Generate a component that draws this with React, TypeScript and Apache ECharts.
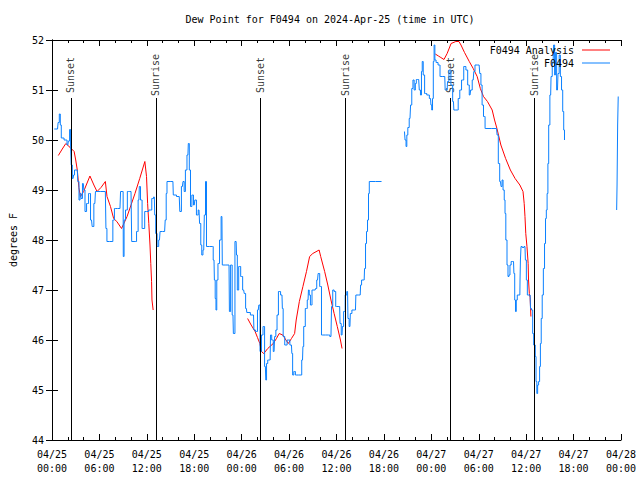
import React, { useEffect, useRef } from "react";
import * as echarts from "echarts";

const FONT = '"DejaVu Sans Mono", monospace';

const titleText = "Dew Point for F0494 on 2024-Apr-25 (time in UTC)";
const yAxisName = "degrees F";
const seriesNames = ["F0494 Analysis", "F0494"];

// hours since 2024-04-25 00:00 UTC
const obsHours = [
  0.29, 0.7, 0.85, 1.0, 1.1, 1.25, 1.8, 2.0, 2.15, 2.3, 2.4, 2.46, 2.67, 2.8, 2.9, 3.2, 3.33, 3.5, 3.6, 3.75,
  3.96, 4.1, 4.25, 4.5, 4.75, 5.0, 5.17, 5.42, 5.58, 6.75, 6.9, 7.0, 7.6, 7.8, 8.0, 8.6, 8.75, 9.0, 9.04, 9.2,
  9.4, 9.67, 10.0, 10.17, 10.6, 10.8, 11.0, 11.1, 11.3, 11.5, 11.96, 12.5, 12.75, 12.95, 13.05, 13.2, 13.4, 13.6, 13.75, 14.25,
  14.4, 14.5, 14.6, 15.3, 15.4, 16.1, 16.25, 16.5, 16.65, 16.8, 16.96, 17.2, 17.3, 17.45, 17.6, 17.8, 18.0, 18.15, 18.4, 18.6,
  18.75, 18.9, 19.0, 19.2, 19.35, 19.5, 19.6, 20.3, 20.5, 20.6, 20.7, 20.8, 20.9, 21.1, 21.3, 21.5, 21.6, 22.4, 22.5, 22.7,
  22.9, 23.0, 23.3, 23.4, 23.5, 23.75, 24.0, 24.25, 24.4, 24.6, 24.7, 25.5, 25.6, 25.9, 26.1, 26.25, 26.4, 26.6, 26.8, 27.0,
  27.1, 27.2, 27.4, 27.6, 27.7, 27.9, 28.1, 28.25, 28.4, 28.55, 28.75, 29.1, 29.2, 29.3, 29.6, 29.9, 30.3, 30.4, 30.5, 30.7,
  30.9, 31.5, 31.7, 31.8, 31.9, 32.2, 32.4, 32.5, 32.6, 32.8, 33.0, 33.3, 33.4, 33.6, 33.75, 34.0, 34.2, 35.0, 35.3, 35.45,
  35.6, 35.8, 36.0, 36.4, 36.5, 36.7, 36.8, 37.0, 37.2, 37.4, 37.5, 37.7, 37.8, 38.1, 38.4, 38.5, 39.0, 39.1, 39.25, 39.5,
  39.6, 39.75, 39.85, 40.0, 40.1, 40.2, 41.7, 42.0,
  44.6, 44.75, 44.85, 44.95, 45.1, 45.3, 45.45, 45.6, 45.75, 45.9, 46.05, 46.15, 46.4, 46.55, 46.7, 46.8, 46.9, 47.05, 47.25, 47.6,
  47.9, 48.0, 48.1, 48.2, 48.3, 48.4, 48.5, 48.7, 49.0, 49.2, 49.7, 49.8, 50.0, 50.1, 50.35, 50.6, 50.8, 50.9, 51.3, 51.5,
  51.7, 51.95, 52.25, 52.5, 52.7, 52.9, 53.05, 53.3, 53.45, 53.6, 54.05, 54.2, 54.35, 54.5, 54.7, 54.9, 56.25, 56.4, 56.55, 56.75,
  56.9, 57.0, 57.15, 57.3, 57.35, 57.5, 57.65, 57.75, 57.9, 58.0, 58.2, 58.4, 58.5, 58.6, 58.7, 58.8, 58.95, 59.2, 59.25, 59.3,
  59.4, 59.6, 59.85, 59.95, 60.1, 60.2, 60.5, 60.6, 60.75, 60.9, 61.0, 61.1, 61.2, 61.3, 61.4, 61.5, 61.65, 61.75, 61.85, 61.96,
  62.1, 62.25, 62.4, 62.5, 62.6, 62.7, 62.8, 62.9, 63.1, 63.2, 63.4, 63.55, 63.65, 63.75, 63.96, 64.1, 64.25, 64.4, 64.55, 64.7,
  64.8, 64.9, 65.0,
  71.45, 71.55, 71.6, 71.7,
];
const obsValues = [
  50.22, 50.22, 50.35, 50.52, 50.3, 50.04, 50.0, 49.9, 49.98, 50.21, 49.9, 49.5, 49.23, 49.3, 49.4, 49.4, 49.17, 48.8, 48.93, 48.83,
  49.13, 49.0, 48.57, 48.73, 48.93, 48.4, 48.27, 48.73, 48.97, 48.97, 48.23, 47.97, 47.97, 48.4, 48.63, 48.63, 48.97, 48.97, 47.67, 48.4,
  48.6, 48.97, 48.97, 47.97, 47.97, 48.17, 48.8, 49.07, 48.8, 48.23, 48.57, 48.6, 48.83, 48.86, 48.5, 48.13, 47.87, 48.0, 48.17, 48.17,
  48.4, 48.93, 49.17, 49.17, 48.9, 48.87, 48.57, 49.07, 49.17, 48.97, 49.4, 49.7, 49.93, 49.4, 48.67, 48.9, 48.7, 48.8, 48.5, 48.6,
  48.33, 47.9, 47.7, 47.8, 48.5, 49.17, 47.87, 47.87, 47.6, 47.2, 46.83, 46.6, 47.2, 47.53, 48.0, 48.47, 47.5, 47.5, 46.57, 47.5,
  46.5, 46.13, 47.97, 47.7, 47.0, 47.47, 47.27, 47.0, 46.93, 46.63, 46.55, 46.5, 46.2, 46.17, 46.6, 46.7, 45.77, 46.1, 46.27, 45.47,
  45.2, 45.53, 45.6, 45.6, 46.1, 46.0, 45.77, 46.07, 46.2, 46.5, 46.97, 46.9, 46.63, 46.07, 45.9, 46.0, 45.9, 45.73, 45.3, 45.37,
  45.3, 45.3, 45.6, 45.87, 46.27, 46.63, 46.8, 47.0, 46.9, 46.7, 47.0, 47.0, 47.03, 47.2, 47.33, 47.07, 46.1, 46.1, 46.07, 46.67,
  47.0, 46.97, 46.67, 46.67, 46.33, 46.1, 46.27, 46.57, 46.9, 46.97, 46.43, 46.27, 46.53, 46.6, 46.6, 46.9, 46.9, 47.1, 47.2, 47.2,
  47.43, 47.93, 48.17, 48.4, 48.93, 49.17, 49.17, null,
  50.17, 50.0, 49.87, 50.1, 50.25, 50.43, 50.7, 51.03, 51.2, 51.0, 51.13, 51.21, 51.21, 51.0, 50.9, 51.37, 51.57, 51.3, 50.93, 50.9,
  50.83, 50.7, 50.6, 50.83, 51.57, 51.9, 51.6, 51.55, 51.5, 51.27, 51.27, 51.0, 51.0, 51.17, 51.4, 51.1, 50.77, 50.6, 50.6, 50.83,
  51.0, 51.2, 51.47, 51.4, 51.1, 50.9, 51.0, 51.2, 51.37, 51.5, 51.5, 51.33, 51.1, 50.7, 50.47, 50.23, 50.23, 50.1, 49.53, 49.17,
  49.07, 49.2, 49.0, 48.8, 48.53, 48.0, 47.5, 47.27, 47.3, 47.5, 47.57, 47.57, 47.33, 46.8, 46.57, 46.8, 46.9, 46.9, 47.2, 47.6,
  47.87, 47.85, 47.87, 47.6, 47.2, 46.9, 46.9, 46.63, 46.6, 46.13, 45.9, 45.9, 45.67, 45.17, 44.93, 45.1, 45.17, 45.47, 45.93, 46.43,
  46.9, 47.43, 47.93, 48.43, 48.6, 48.93, 49.53, 50.3, 50.9, 51.27, 51.53, 51.9, 51.3, 51.75, 51.0, 51.33, 51.7, 51.27, 51.0, 50.57,
  50.2, 50.0, null,
  48.6, 49.1, 50.3, 50.87,
];

const anaHours = [
  0.8, 1.3, 1.75, 2.3, 2.8, 3.0, 3.2, 3.4, 3.6, 4.0, 4.8, 5.3, 5.7, 6.2, 6.75, 6.96, 7.4, 7.8, 8.2, 8.8,
  9.5, 10.5, 11.1, 11.75, 11.96, 12.1, 12.25, 12.4, 12.5, 12.6, 12.65, 12.8, 13.0,
  24.75, 25.2, 25.7, 26.0, 26.3, 26.5, 26.8, 27.3, 28.0, 28.4, 28.75, 29.2, 29.6, 29.9, 30.3, 30.7, 30.9, 31.3, 31.75, 32.2,
  32.6, 33.0, 33.8, 34.0, 34.5, 34.9, 35.3, 35.7, 36.1, 36.5, 36.7, 37.0,
  48.5, 48.9, 49.2, 49.6, 50.0, 50.5, 51.1, 51.5, 51.75, 52.2, 52.8, 53.3, 53.8, 54.2, 54.6, 55.1, 55.7, 56.0, 56.3, 56.8,
  57.4, 58.0, 58.6, 59.2, 59.6, 59.75, 59.85, 59.95, 60.1, 60.25, 60.3, 60.4, 60.5, 60.6,
];
const anaValues = [
  49.69, 49.82, 49.93, 49.85, 49.77, 49.6, 49.4, 49.05, 48.87, 48.97, 49.28, 49.1, 48.97, 49.05, 49.17, 48.87, 48.67, 48.43, 48.37, 48.23,
  48.47, 48.93, 49.23, 49.57, 49.27, 48.73, 48.33, 47.9, 47.53, 47.17, 46.8, 46.6, null,
  46.43, 46.3, 46.17, 46.05, 45.93, 45.77, 45.73, 45.83, 45.93, 46.03, 46.13, 46.1, 46.0, 45.93, 46.03, 46.13, 46.4, 46.77, 47.07, 47.37,
  47.67, 47.73, 47.8, 47.67, 47.37, 47.1, 46.8, 46.53, 46.27, 46.0, 45.83, null,
  51.72, 51.68, 51.65, 51.61, 51.73, 51.93, 51.97, 51.97, 51.9, 51.75, 51.57, 51.43, 51.27, 51.03, 50.87, 50.77, 50.6, 50.4, 50.23, 49.9,
  49.63, 49.4, 49.23, 49.1, 48.97, 48.73, 48.47, 48.13, 47.87, 47.53, 47.2, 46.93, 46.85, 46.47,
];

const eventHours = [2.38, 13.13, 26.4, 37.17, 50.4, 61.04];
const eventLabels = ["Sunset", "Sunrise", "Sunset", "Sunrise", "Sunset", "Sunrise"];
const eventLineTop = 50.84;
const eventLabelY = 51.3;

// split a series into contiguous segments at the null gaps
function segments(xs: number[], ys: (number | null)[]) {
  const out: number[][][] = [];
  let cur: number[][] = [];
  xs.forEach((x, i) => {
    const y = ys[i];
    if (y === null) {
      if (cur.length) out.push(cur);
      cur = [];
    } else {
      cur.push([x, y]);
    }
  });
  if (cur.length) out.push(cur);
  return out;
}

function fmtHour(h: number) {
  const day = 25 + Math.floor(h / 24 + 1e-9);
  const hr = Math.round(h - (day - 25) * 24);
  const dd = String(day).padStart(2, "0");
  const hh = String(hr).padStart(2, "0");
  return "04/" + dd + "\n" + hh + ":00";
}

export default function App() {
  const ref = useRef<HTMLDivElement>(null);
  useEffect(() => {
    const chart = echarts.init(ref.current!, null, { renderer: "svg" });
    const axisCommon = {
      axisLine: { show: true, lineStyle: { color: "#000", width: 1 } },
      axisTick: { show: true, inside: true, length: 6, lineStyle: { color: "#000", width: 1 } },
      splitLine: { show: false },
    };
    const redSeries = segments(anaHours, anaValues).map((seg) => ({
      name: seriesNames[0],
      type: "line",
      data: seg,
      showSymbol: false,
      symbol: "none",
      color: "#ff0000",
      lineStyle: { color: "#ff0000", width: 1 },
    }));
    const blueSeries = segments(obsHours, obsValues).map((seg) => ({
      name: seriesNames[1],
      type: "line",
      step: "middle",
      data: seg,
      showSymbol: false,
      symbol: "none",
      color: "#0a80ff",
      lineStyle: { color: "#0a80ff", width: 1 },
    }));
    chart.setOption({
      animation: false,
      backgroundColor: "#fff",
      title: {
        text: titleText,
        left: 330,
        top: 14,
        padding: 0,
        textAlign: "center",
        textStyle: { fontFamily: FONT, fontSize: 10, fontWeight: "normal", color: "#000" },
      },
      legend: {
        data: seriesNames,
        orient: "vertical",
        right: 30,
        top: 44,
        padding: 0,
        align: "right",
        icon: "rect",
        itemWidth: 28,
        itemHeight: 1,
        itemGap: 1,
        textStyle: { fontFamily: FONT, fontSize: 10, lineHeight: 12, color: "#000", padding: [0, 3, 0, 0] },
      },
      grid: { left: 46, right: 19, top: 40, bottom: 40, containLabel: false },
      xAxis: [
        {
          type: "value",
          position: "bottom",
          min: 0,
          max: 72,
          interval: 6,
          ...axisCommon,
          minorTick: { show: true, splitNumber: 3, length: 3, lineStyle: { color: "#000" } },
          axisLabel: {
            formatter: (v: number) => fmtHour(v),
            color: "#000",
            fontFamily: FONT,
            fontSize: 10,
            lineHeight: 14,
            margin: 7,
          },
        },
        {
          type: "value",
          position: "top",
          min: 0,
          max: 72,
          interval: 6,
          ...axisCommon,
          minorTick: { show: true, splitNumber: 3, length: 3, lineStyle: { color: "#000" } },
          axisLabel: { show: false },
        },
      ],
      yAxis: [
        {
          type: "value",
          position: "left",
          min: 44,
          max: 52,
          interval: 1,
          ...axisCommon,
          name: yAxisName,
          nameLocation: "middle",
          nameGap: 34,
          nameTextStyle: { fontFamily: FONT, fontSize: 10, color: "#000" },
          axisLabel: { color: "#000", fontFamily: FONT, fontSize: 10, margin: 8 },
        },
        {
          type: "value",
          position: "right",
          min: 44,
          max: 52,
          interval: 1,
          ...axisCommon,
          axisLabel: { show: false },
        },
      ],
      series: [
        ...redSeries,
        ...blueSeries,
        {
          name: "events",
          type: "scatter",
          symbolSize: 0.001,
          data: eventHours.map((h, i) => ({ value: [h, eventLabelY], name: eventLabels[i] })),
          label: {
            show: true,
            formatter: "{b}",
            rotate: 90,
            position: "inside",
            color: "#000",
            fontFamily: FONT,
            fontSize: 10,
          },
          markLine: {
            silent: true,
            symbol: ["none", "none"],
            label: { show: false },
            lineStyle: { color: "#000", width: 1, type: "solid" },
            data: eventHours.map((h) => [{ coord: [h, eventLineTop] }, { coord: [h, 44] }]),
          },
        },
      ],
    });
    return () => chart.dispose();
  }, []);
  return (
    <div
      ref={ref}
      style={{ position: "fixed", left: 0, top: 0, width: 640, height: 480, background: "#fff" }}
    />
  );
}
